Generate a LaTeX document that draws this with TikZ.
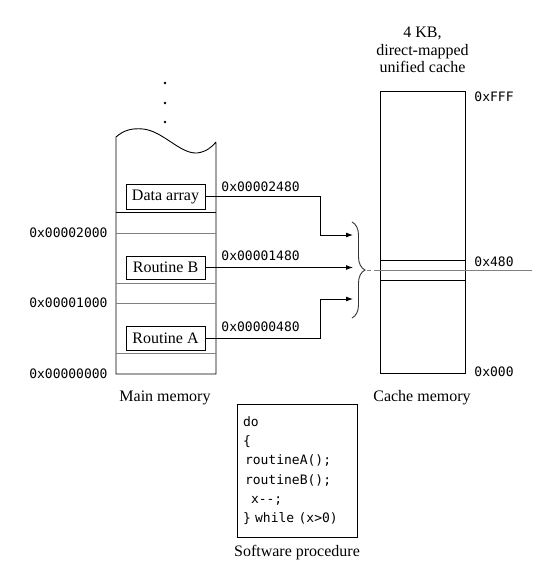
\documentclass[tikz,border=0pt]{standalone}
\usepackage{fontspec}
\setmainfont{Liberation Serif}
\setmonofont{DejaVu Sans Mono}
\usetikzlibrary{arrows.meta,decorations.pathreplacing}
\newcommand{\mAddr}[1]{{\ttfamily\fontsize{13}{15}\selectfont #1}}
\newcommand{\mCode}{\ttfamily\fontsize{13}{19.3}\selectfont}

\begin{document}
\begin{tikzpicture}[x=1pt,y=-1pt,line width=0.9pt,font=\fontsize{16}{17.5}\selectfont]
\useasboundingbox (0,0) rectangle (549,572);
% dots above main memory
\fill (165,83) circle (1.3);
\fill (165,103) circle (1.3);
\fill (165,122) circle (1.3);
% main memory column
\draw (216,143) -- (216,374) -- (116,374) -- (116,137)
  .. controls (124,130) and (132,128) .. (143,129)
  .. controls (163,131) and (180,154) .. (197,153)
  .. controls (206,152) and (212,147) .. (216,142);
\draw (116,212) -- (216,212);
\draw[black!50] (116,233) -- (216,233);
\draw[black!50] (116,283) -- (216,283);
\draw[black!50] (116,303) -- (216,303);
\draw[black!50] (116,353) -- (216,353);
\node[draw, minimum width=79, minimum height=25, inner sep=0pt] (dat) at (165.5,196.5) {Data array};
\node[draw, minimum width=79, minimum height=23, inner sep=0pt] (rb) at (165.5,267.5) {Routine B};
\node[draw, minimum width=79, minimum height=24, inner sep=0pt] (ra) at (165.5,338) {Routine A};
\node[anchor=east, inner sep=0pt] (a2000) at (108,233) {\mAddr{0x00002000}};
\node[anchor=east, inner sep=0pt] (a1000) at (108,303) {\mAddr{0x00001000}};
\node[anchor=east, inner sep=0pt] (a0000) at (108,374) {\mAddr{0x00000000}};
\node (mmem) at (165,398) {Main memory};
% mapping into the cache
\coordinate (inD) at (353,235);
\coordinate (inB) at (353,267.5);
\coordinate (inA) at (353,299);
\draw[-{Latex[length=7pt,width=5pt]}] (dat.east) -- ++(115,0) |- (inD);
\draw[-{Latex[length=7pt,width=5pt]}] (rb.east) -- (inB);
\draw[-{Latex[length=7pt,width=5pt]}] (ra.east) -- ++(115,0) |- (inA);
\node[anchor=west, inner sep=0pt] (lD) at (221,187) {\mAddr{0x00002480}};
\node[anchor=west, inner sep=0pt] (lB) at (221,256) {\mAddr{0x00001480}};
\node[anchor=west, inner sep=0pt] (lA) at (221,327) {\mAddr{0x00000480}};
\draw[black!80, decorate, decoration={brace, amplitude=13pt}] (352,222) -- (352,318);
\coordinate (tip) at (367,270);
\coordinate (hit) at (375,270);
\draw[black!50, dash pattern=on 4pt off 3pt] (tip) -- (hit);
% cache memory
\draw (380,91) rectangle (465,373);
\draw (380,260) -- (465,260);
\draw (380,280) -- (465,280);
\draw[black!50] (hit) -- (532,270);
\node[align=center] (title) at (422.5,50) {4 KB,\\direct-mapped\\unified cache};
\node[anchor=west, inner sep=0pt] (cFFF) at (474,97) {\mAddr{0xFFF}};
\node[anchor=west, inner sep=0pt] (c480) at (474,262) {\mAddr{0x480}};
\node[anchor=west, inner sep=0pt] (c000) at (474,372) {\mAddr{0x000}};
\node (cmem) at (422,398) {Cache memory};
% software procedure
\node[draw, text width=108pt, inner xsep=6pt, minimum height=133, align=left, font=\mCode] (code) at (297,470.5)
  {do\\\{\\\hspace*{2pt}routineA();\\\hspace*{2pt}routineB();\\\hspace*{8pt}x-{}-;\\\} while (x>0)};
\node (soft) at (297,553) {Software procedure};
\end{tikzpicture}
\end{document}
